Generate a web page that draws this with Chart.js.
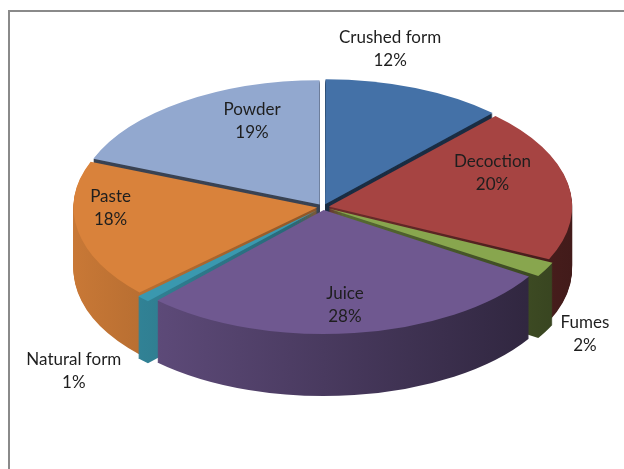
<!DOCTYPE html>
<html>
<head>
<meta charset="utf-8">
<script src="https://cdn.jsdelivr.net/npm/chart.js@4"></script>
<style>
  html, body { margin: 0; padding: 0; background: #fff; overflow: hidden; }
  #frame { position: absolute; left: 8px; top: 10px; width: 700px; height: 600px;
           border-left: 2px solid #8a8a8a; border-top: 2px solid #8a8a8a; }
  #c { position: absolute; left: 0; top: 0; }
</style>
</head>
<body>
<div id="frame"></div>
<canvas id="c" width="624" height="469"></canvas>
<script>
// ---- data ----
const categories = ['Crushed form', 'Decoction', 'Fumes', 'Juice', 'Natural form', 'Paste', 'Powder'];
const shares = [12, 20, 2, 28, 1, 18, 19];
const sliceColors = ['#4471A7', '#A64442', '#88A64E', '#6F5890', '#3A98AF', '#D9823B', '#92A8CF'];
// label placement (multiples of the ellipse radii along each slice's mid angle)
const labelSpreadX = [0.75, 0.71, 1.23, 0.72, 1.45, 0.89, 0.52];
const labelSpreadY = [1.37, 1.47, 2.12, 0.80, 1.87, 0.04, 0.84];

// ---- 3D look ----
const RX = 243, RY = 124, CX = 323, CY = 207, DEPTH = 62;

function shade(hex, f) {
  const n = parseInt(hex.slice(1), 16);
  const r = Math.round(((n >> 16) & 255) * f);
  const g = Math.round(((n >> 8) & 255) * f);
  const b = Math.round((n & 255) * f);
  return `rgb(${r},${g},${b})`;
}

function withBg(arc, bg) {
  const proxy = Object.create(arc);
  proxy.options = Object.assign({}, arc.options, { backgroundColor: bg, borderWidth: 0 });
  return proxy;
}

const pie3d = {
  id: 'pie3d',
  beforeDatasetsDraw(chart) {
    const ctx = chart.ctx;
    const arcs = chart.getDatasetMeta(0).data;
    const a0 = arcs[0];
    const R = a0.outerRadius, ax = a0.x, ay = a0.y;
    const sx = RX / R, sy = RY / R;
    const total = shares.reduce((s, v) => s + v, 0);

    ctx.save();
    ctx.translate(CX, CY);
    ctx.scale(sx, sy);
    ctx.translate(-ax, -ay);

    const sides = arcs.map((arc, i) => {
      const back = Math.sin(arc.startAngle) <= 1e-6 && Math.sin(arc.endAngle) <= 1e-6;
      if (back) return shade(sliceColors[i], 0.40);
      const g = ctx.createLinearGradient(ax - R, 0, ax + R, 0);
      g.addColorStop(0, shade(sliceColors[i], 0.92));
      g.addColorStop(1, shade(sliceColors[i], 0.40));
      return g;
    });

    for (let d = DEPTH; d >= 1; d--) {
      for (let i = 0; i < arcs.length; i++) {
        ctx.save();
        ctx.translate(0, d / sy);
        const p = withBg(arcs[i], sides[i]);
        arcs[i].draw.call(p, ctx);
        ctx.restore();
      }
    }
    for (let i = 0; i < arcs.length; i++) {
      arcs[i].draw(ctx);
    }
    ctx.restore();

    // labels
    ctx.save();
    ctx.font = '17px Lato';
    ctx.fillStyle = '#1e1e1e';
    ctx.textAlign = 'center';
    ctx.textBaseline = 'middle';
    arcs.forEach((arc, i) => {
      const mid = (arc.startAngle + arc.endAngle) / 2;
      const x = CX + Math.cos(mid) * RX * labelSpreadX[i];
      const y = CY + Math.sin(mid) * RY * labelSpreadY[i];
      const pct = Math.round(shares[i] / total * 100) + '%';
      ctx.fillText(categories[i], x, y - 11.5);
      ctx.fillText(pct, x, y + 11.5);
    });
    ctx.restore();
    return false;
  }
};

new Chart(document.getElementById('c'), {
  type: 'pie',
  data: {
    labels: categories,
    datasets: [{
      data: shares,
      backgroundColor: sliceColors,
      borderWidth: 0,
      offset: 22,
      hoverOffset: 0
    }]
  },
  options: {
    responsive: false,
    animation: false,
    events: [],
    layout: { padding: 0 },
    plugins: { legend: { display: false }, tooltip: { enabled: false } }
  },
  plugins: [pie3d]
});
</script>
</body>
</html>
